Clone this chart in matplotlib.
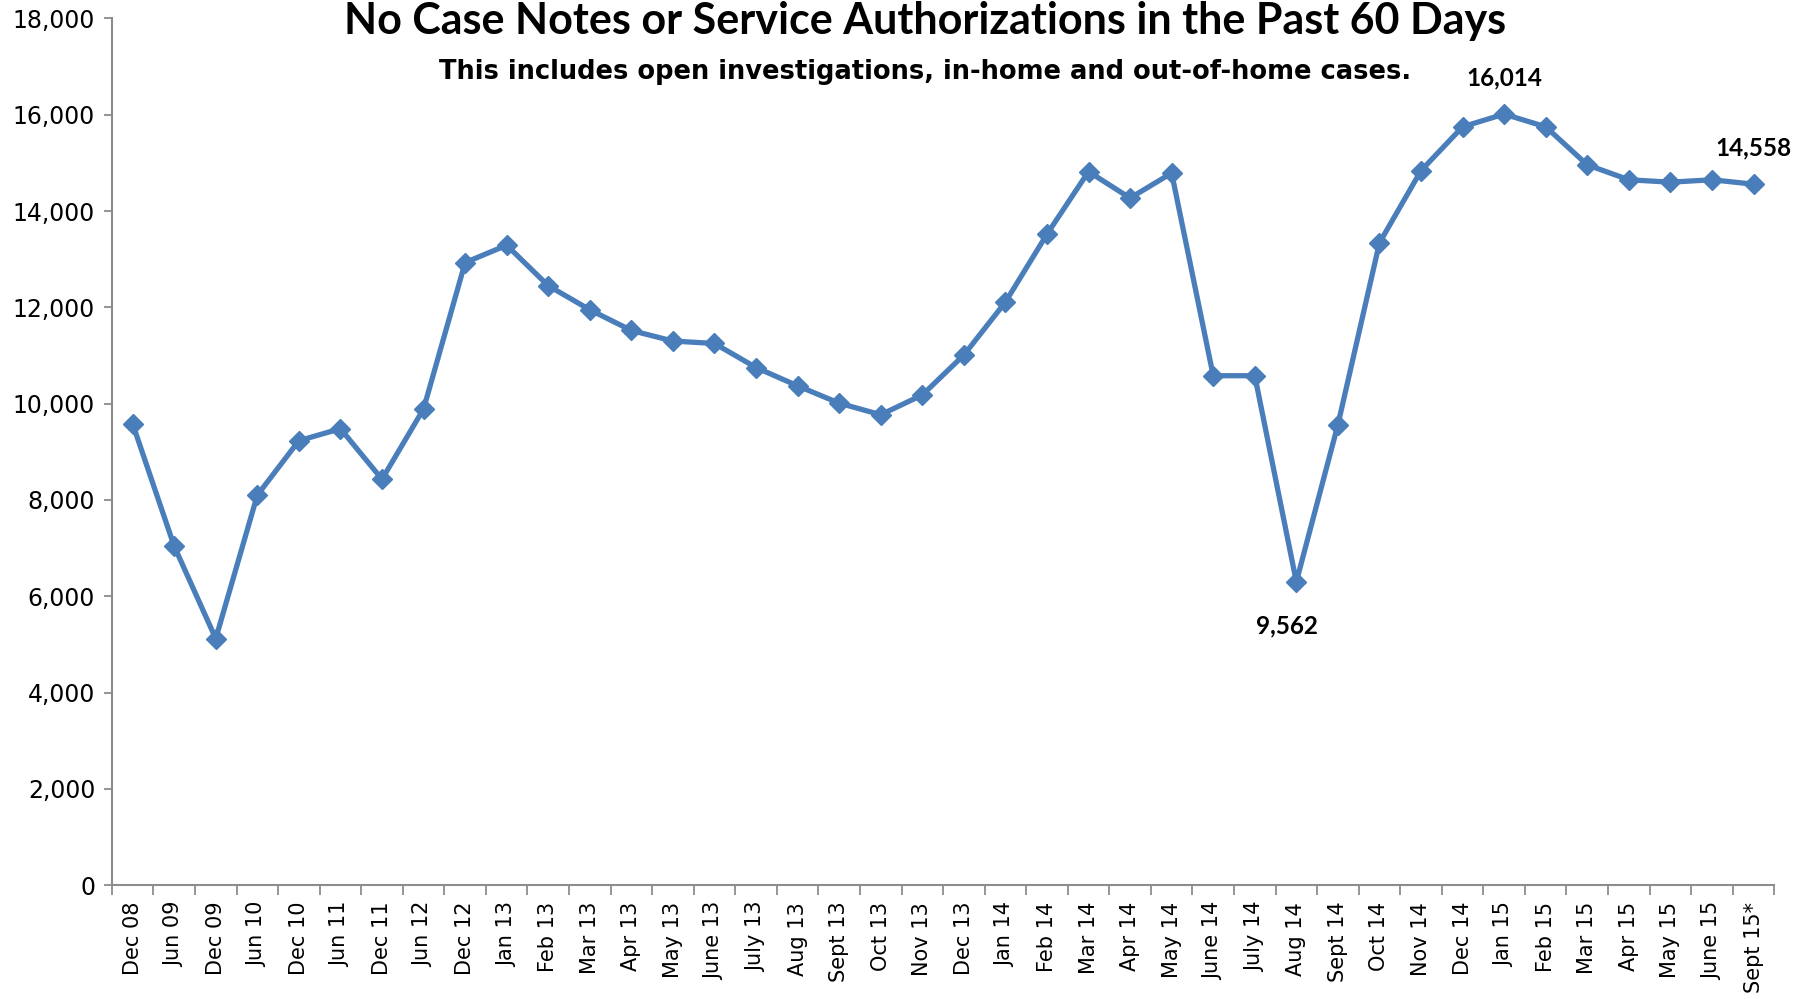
import numpy as np
import matplotlib
matplotlib.use("Agg")
import matplotlib.pyplot as plt
from matplotlib.ticker import FuncFormatter, FixedLocator

months = ["Dec 08", "Jun 09", "Dec 09", "Jun 10", "Dec 10", "Jun 11", "Dec 11", "Jun 12",
          "Dec 12", "Jan 13", "Feb 13", "Mar 13", "Apr 13", "May 13", "June 13", "July 13",
          "Aug 13", "Sept 13", "Oct 13", "Nov 13", "Dec 13", "Jan 14", "Feb 14", "Mar 14",
          "Apr 14", "May 14", "June 14", "July 14", "Aug 14", "Sept 14", "Oct 14", "Nov 14",
          "Dec 14", "Jan 15", "Feb 15", "Mar 15", "Apr 15", "May 15", "June 15", "Sept 15*"]
cases = [9580, 7040, 5120, 8100, 9230, 9480, 8430, 9890,
         12930, 13290, 12450, 11950, 11520, 11300, 11250, 10750,
         10370, 10010, 9770, 10180, 11010, 12110, 13520, 14820,
         14270, 14790, 10580, 10580, 6300, 9562, 13340, 14840,
         15750, 16014, 15750, 14960, 14650, 14600, 14650, 14558]

# callouts: (index of point, text, offset in points)
callouts = [(33, "16,014", (0, 26)), (39, "14,558", (0, 26)), (28, "9,562", (-7, -32))]

blue = "#4A7EBB"
grey = "#8C8C8C"

fig = plt.figure(figsize=(18.07, 9.99), dpi=100)
ax = fig.add_axes([0.0619, 0.114, 0.92, 0.8675])

x = np.arange(len(months))
ax.plot(x, cases, color=blue, lw=3.8, marker="D", ms=10.5, zorder=3)

for i, txt, off in callouts:
    ax.annotate(txt, (x[i], cases[i]), xytext=off, textcoords="offset points",
                ha="center", va="center", fontsize=17.5, fontweight="bold",
                family=["Lato", "DejaVu Sans"])

ax.set_xlim(-0.5, len(months) - 0.5)
ax.set_ylim(0, 18000)
ax.set_yticks(np.arange(0, 18001, 2000))
ax.yaxis.set_major_formatter(FuncFormatter(lambda v, p: f"{int(v):,}"))

ax.set_xticks(x)
ax.set_xticklabels(months, rotation=90, fontsize=15, family="DejaVu Sans")
ax.xaxis.set_minor_locator(FixedLocator(np.arange(-0.5, len(months), 1)))
ax.tick_params(axis="x", which="major", length=0, pad=12)
ax.tick_params(axis="x", which="minor", length=7, width=1.3, color=grey, direction="out")
ax.tick_params(axis="y", length=6, width=1.3, color=grey, direction="out", pad=6)
for lab in ax.get_yticklabels():
    lab.set_family(["Liberation Sans Narrow", "DejaVu Sans"])
    lab.set_fontsize(17)

for s in ["top", "right"]:
    ax.spines[s].set_visible(False)
for s in ["left", "bottom"]:
    ax.spines[s].set_color(grey)
    ax.spines[s].set_linewidth(1.5)

fig.text(0.512, 0.979, "No Case Notes or Service Authorizations in the Past 60 Days",
         ha="center", va="center", fontsize=31, fontweight="bold",
         family=["Lato", "DejaVu Sans"])
fig.text(0.512, 0.928, "This includes open investigations, in-home and out-of-home cases.",
         ha="center", va="center", fontsize=18.5, fontweight="bold", family="DejaVu Sans")

fig.savefig("out.png", dpi=100)
